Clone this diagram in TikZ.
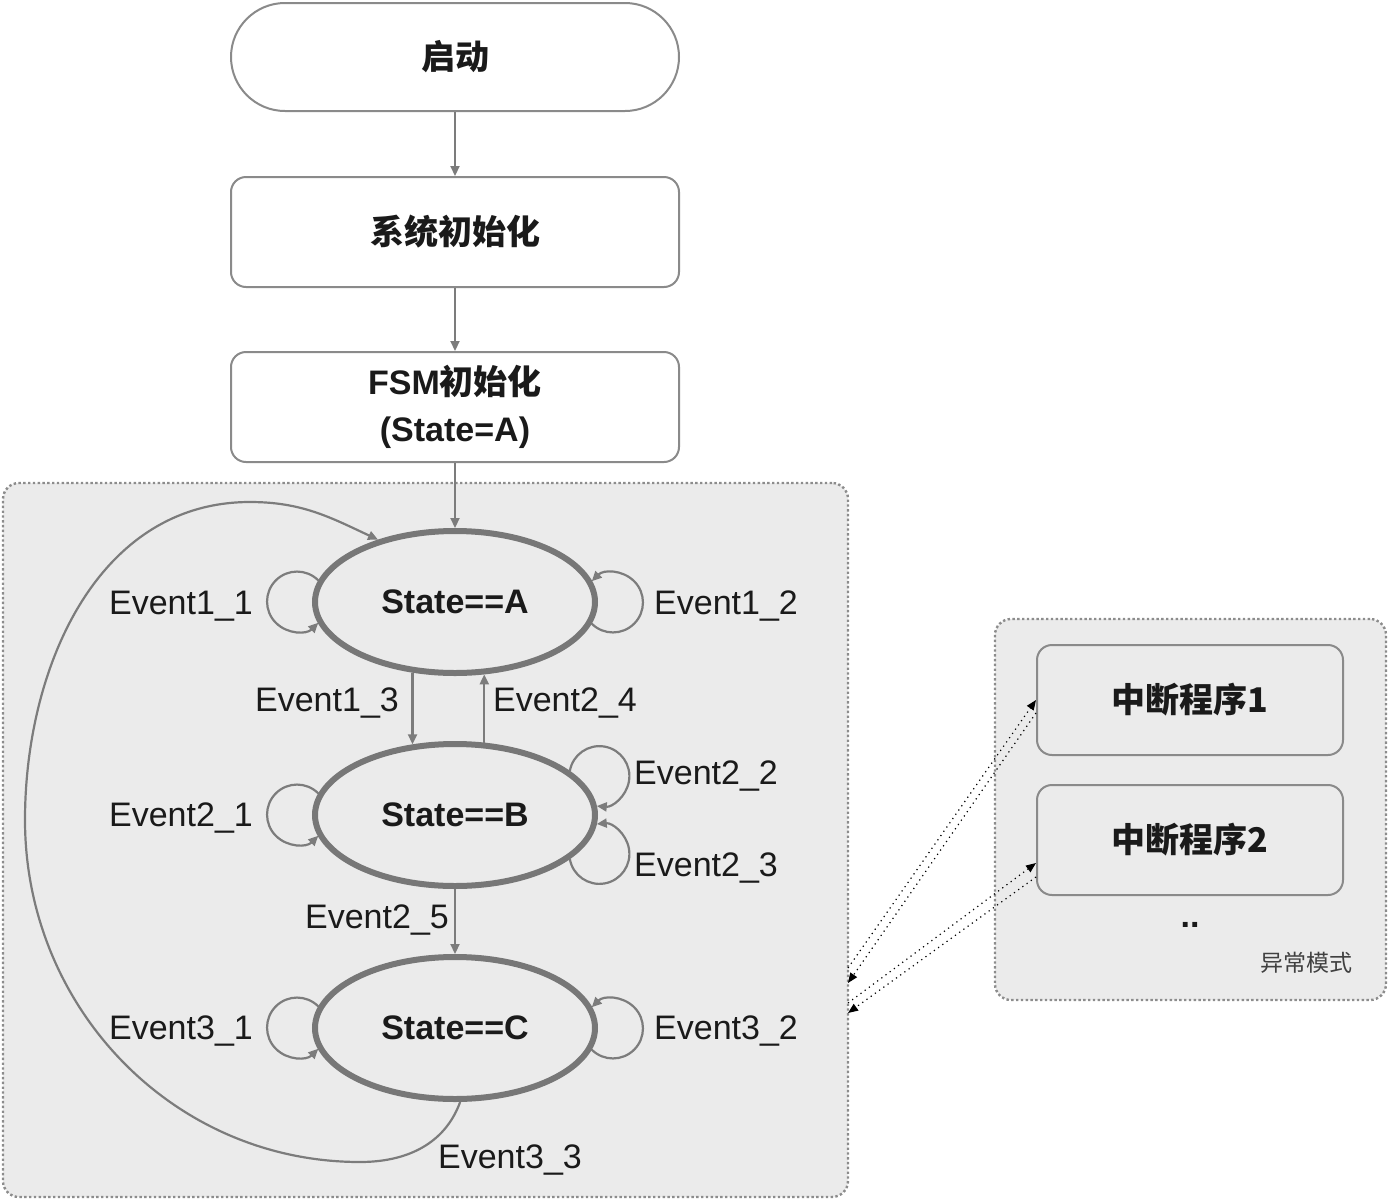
\documentclass[tikz,border=0pt]{standalone}
\usepackage{fontspec}
\setmainfont{Liberation Sans}
\newfontfamily\cjk{Noto Sans CJK SC}
\usetikzlibrary{arrows.meta,shapes.geometric}
\definecolor{bordgray}{HTML}{8A8A8A}
\definecolor{ellgray}{HTML}{777777}
\definecolor{arrgray}{HTML}{7C7C7C}
\definecolor{dotgray}{HTML}{8C8C8C}
\definecolor{panel}{HTML}{EBEBEB}
\definecolor{txt}{HTML}{1A1A1A}
\begin{document}
\begin{tikzpicture}[x=0.5pt,y=0.5pt,
  box/.style={draw=bordgray, line width=1pt, fill=white, rounded corners=7.5pt,
    minimum width=224pt, minimum height=55pt, inner sep=0pt, text=txt, align=center,
    font=\fontsize{17}{23.5}\selectfont\bfseries},
  ibox/.style={box, fill=panel, minimum width=153pt},
  state/.style={ellipse, draw=ellgray, line width=3pt, minimum width=140pt, minimum height=71pt,
    inner sep=0pt, text=txt, font=\fontsize{17}{20}\selectfont\bfseries},
  container/.style={draw=dotgray, line width=1.2pt, dash pattern=on 1.2pt off 1.2pt,
    fill=panel, rounded corners=8pt, inner sep=0pt},
  lbl/.style={font=\fontsize{17}{20}\selectfont, text=txt, inner sep=0pt, yshift=-1.5pt},
  arr/.style={draw=arrgray, line width=1.1pt, -{Triangle[length=5pt,width=4.5pt]}},
  dotarr/.style={draw=black, line width=0.6pt, dotted, -{Triangle[length=5pt,width=4pt]}}
]
\useasboundingbox (0,0) rectangle (1389,-1200);

% containers
\node[container, minimum width=422.5pt, minimum height=357pt] (main) at (425.5,-840) {};
\node[container, minimum width=195.5pt, minimum height=190.5pt] (exc) at (1190.5,-809.5) {};

% top flow
\node[box, rounded corners=27pt, minimum height=54pt] (start) at (455,-57) {\cjk 启动};
\node[box] (sysinit) at (455,-232) {\cjk 系统初始化};
\node[box] (fsminit) at (455,-407) {FSM{\cjk 初始化}\\(State=A)};

% states
\node[state] (A) at (455,-602) {State==A};
\node[state] (B) at (455,-815) {State==B};
\node[state] (C) at (455,-1028) {State==C};

% interrupt boxes
\node[ibox] (int1) at (1190,-700) {\cjk 中断程序1};
\node[ibox] (int2) at (1190,-840) {\cjk 中断程序2};
\node[lbl, font=\fontsize{17}{20}\selectfont\bfseries] (dots) at (1190,-922) {..};
\node[lbl, font=\fontsize{11.5}{14}\selectfont\cjk, text=black!75] (exclbl) at (1306,-960) {异常模式};

% flow arrows
\draw[arr] (start) -- (sysinit);
\draw[arr] (sysinit) -- (fsminit);
\draw[arr] (fsminit) -- (A.north);

% state transitions
\draw[arr] (A.239) -- (B.121);
\draw[arr] (B.68) -- (A.-68);
\draw[arr] (B.south) -- (C.north);

% self loops left
\draw[arr] (A.171) arc[start angle=45, end angle=315, radius=15pt];
\draw[arr] (B.171) arc[start angle=45, end angle=315, radius=15pt];
\draw[arr] (C.171) arc[start angle=45, end angle=315, radius=15pt];
% self loops right
\draw[arr] (A.-9) arc[start angle=-135, end angle=135, radius=15pt];
\draw[arr] (C.-9) arc[start angle=-135, end angle=135, radius=15pt];
\draw[arr] (B.21) arc[start angle=170, end angle=-95, radius=15pt];
\draw[arr] (B.-21) arc[start angle=-170, end angle=95, radius=15pt];

% long return curve
\draw[arr] (C.-86) to[out=-110,in=0] (360,-1162) to[out=180,in=-90] (25,-820)
  to[out=90,in=180] (250,-502) to[out=0,in=155] (A.141);

% labels
\node[lbl] (e11) at (181,-603) {Event1\_1};
\node[lbl] (e12) at (726,-603) {Event1\_2};
\node[lbl] (e13) at (327,-700) {Event1\_3};
\node[lbl] (e24) at (565,-700) {Event2\_4};
\node[lbl] (e21) at (181,-815) {Event2\_1};
\node[lbl] (e22) at (706,-773) {Event2\_2};
\node[lbl] (e23) at (706,-865) {Event2\_3};
\node[lbl] (e25) at (377,-917) {Event2\_5};
\node[lbl] (e31) at (181,-1028) {Event3\_1};
\node[lbl] (e32) at (726,-1028) {Event3\_2};
\node[lbl] (e33) at (510,-1157) {Event3\_3};

% dotted interrupt links
\coordinate (m1) at (848,-968);
\coordinate (m2) at (848,-983);
\coordinate (m3) at (848,-1003);
\coordinate (m4) at (848,-1013);
\draw[dotarr] (m1) -- (int1.west);
\draw[dotarr] ([yshift=-6.5pt]int1.west) -- (m2);
\draw[dotarr] (m3) -- ([yshift=-11.5pt]int2.west);
\draw[dotarr] ([yshift=-18.5pt]int2.west) -- (m4);
\end{tikzpicture}
\end{document}
